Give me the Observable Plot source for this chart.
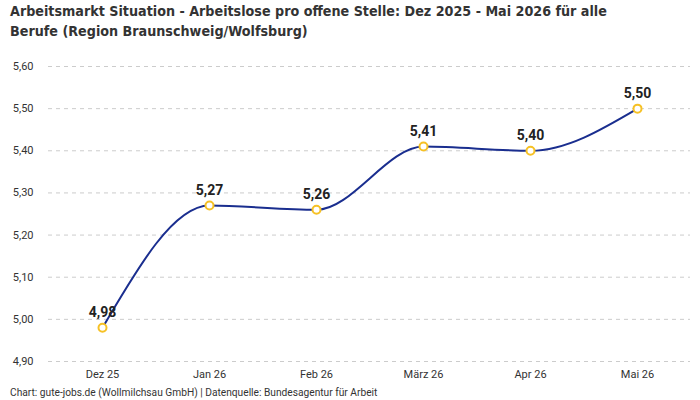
<!DOCTYPE html>
<html>
<head>
<meta charset="utf-8">
<script src="https://cdn.jsdelivr.net/npm/d3@7"></script>
<script src="https://cdn.jsdelivr.net/npm/@observablehq/plot@0.6"></script>
<style>
  html, body { margin: 0; padding: 0; background: #fff; }
  body { width: 700px; height: 400px; overflow: hidden; font-family: Roboto, "Noto Sans", sans-serif; }
  h1 { margin: 0; padding: 1px 10px 0 10px; width: 640px; font-family: "Liberation Sans Narrow", "DejaVu Sans Condensed", Roboto, sans-serif; font-weight: bold; font-size: 14.2px; line-height: 20px; color: #333; }
  #chart { position: absolute; top: 45px; left: 0; }
  .caption { position: absolute; top: 387px; left: 10px; font-size: 10.2px; color: #333; }
</style>
</head>
<body>
<h1>Arbeitsmarkt Situation - Arbeitslose pro offene Stelle: Dez 2025 - Mai 2026 für alle Berufe (Region Braunschweig/Wolfsburg)</h1>
<div id="chart"></div>
<div class="caption">Chart: gute-jobs.de (Wollmilchsau GmbH) | Datenquelle: Bundesagentur für Arbeit</div>
<script>
// Monate und Kennzahl Arbeitslose pro offene Stelle
const months = ["Dez 25", "Jan 26", "Feb 26", "März 26", "Apr 26", "Mai 26"];
const values = [4.98, 5.27, 5.26, 5.41, 5.40, 5.50];
const yTicks = [4.9, 5.0, 5.1, 5.2, 5.3, 5.4, 5.5, 5.6];

const data = months.map((m, i) => ({month: m, value: values[i]}));
const fmt = v => v.toFixed(2).replace(".", ",");

const chart = Plot.plot({
  width: 700,
  height: 340,
  marginTop: 21,
  marginBottom: 24,
  marginLeft: 48,
  marginRight: 10,
  style: {fontFamily: "Roboto, 'Noto Sans', sans-serif", fontSize: "11px", color: "#333"},
  x: {type: "point", domain: months, padding: 0.5, label: null, tickSize: 0, tickPadding: 9},
  y: {domain: [4.9, 5.6], label: null, ticks: yTicks, tickFormat: fmt, tickSize: 0, tickPadding: 15},
  marks: [
    Plot.ruleY(yTicks, {stroke: "#ccc", strokeDasharray: "4,4", strokeWidth: 1}),
    Plot.line(data, {x: "month", y: "value", curve: "monotone-x", stroke: "#1a2e8f", strokeWidth: 2}),
    Plot.dot(data, {x: "month", y: "value", r: 4, fill: "#fff", stroke: "#f6c125", strokeWidth: 2}),
    Plot.text(data, {x: "month", y: "value", text: d => fmt(d.value), dy: -15, fontSize: 14, fontWeight: "bold", fill: "#222"})
  ]
});
document.getElementById("chart").appendChild(chart);
</script>
</body>
</html>
